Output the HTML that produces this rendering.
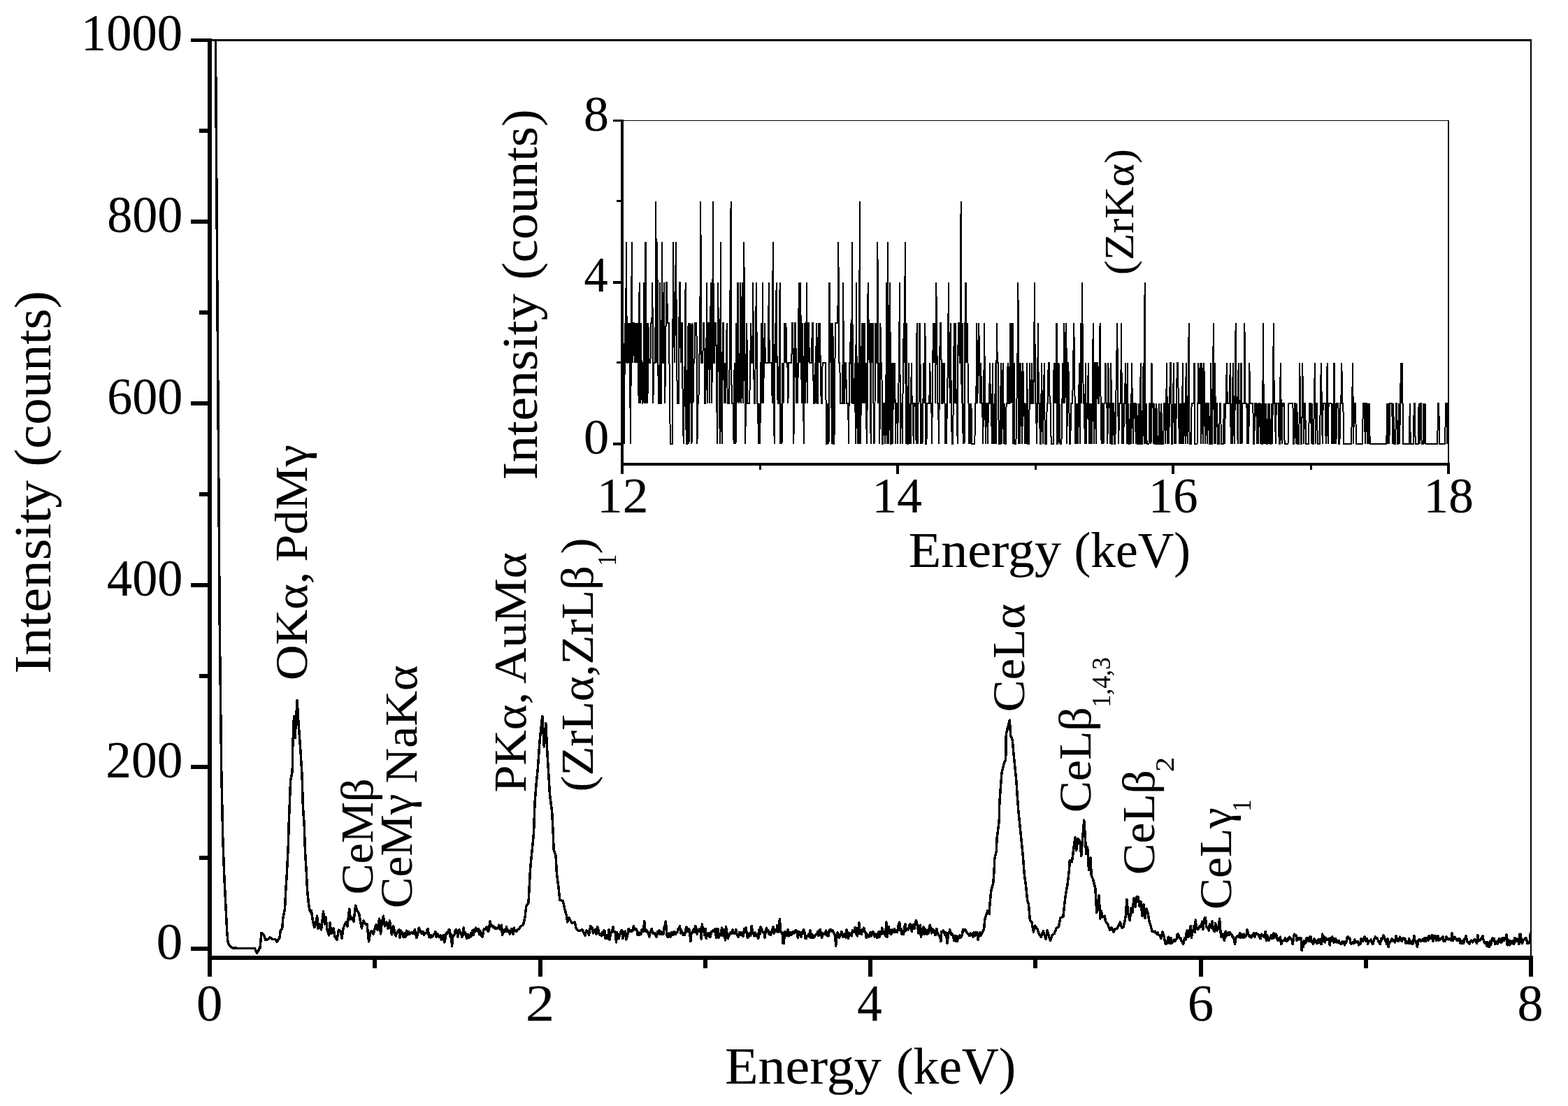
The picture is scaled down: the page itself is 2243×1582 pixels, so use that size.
<!DOCTYPE html>
<html lang="en">
<head>
<meta charset="utf-8">
<title>EDS spectrum</title>
<style>
html,body{margin:0;padding:0;background:#fff;}
body{width:2243px;height:1582px;overflow:hidden;font-family:"Liberation Serif", "DejaVu Serif", serif;}
svg{display:block;}
</style>
</head>
<body>
<svg width="2243" height="1582" viewBox="0 0 2243 1582">
<rect x="0" y="0" width="2243" height="1582" fill="#fff"/>
<g fill="#000" shape-rendering="crispEdges">
<rect x="297" y="55" width="6" height="1342"/>
<rect x="297" y="1367" width="1896" height="6"/>
<rect x="297" y="56" width="1894" height="3"/>
<rect x="2189" y="56" width="2" height="1317"/>
<rect x="273" y="1354" width="27" height="6"/>
<rect x="285" y="1224" width="15" height="6"/>
<rect x="273" y="1094" width="27" height="6"/>
<rect x="285" y="964" width="15" height="6"/>
<rect x="273" y="834" width="27" height="6"/>
<rect x="285" y="704" width="15" height="6"/>
<rect x="273" y="574" width="27" height="6"/>
<rect x="285" y="444" width="15" height="6"/>
<rect x="273" y="314" width="27" height="6"/>
<rect x="285" y="184" width="15" height="6"/>
<rect x="273" y="55" width="27" height="5"/>
<rect x="297" y="1370" width="6" height="27"/>
<rect x="533.25" y="1370" width="6" height="15"/>
<rect x="769.5" y="1370" width="6" height="27"/>
<rect x="1005.75" y="1370" width="6" height="15"/>
<rect x="1242" y="1370" width="6" height="27"/>
<rect x="1478.25" y="1370" width="6" height="15"/>
<rect x="1714.5" y="1370" width="6" height="27"/>
<rect x="1950.75" y="1370" width="6" height="15"/>
<rect x="2187" y="1370" width="6" height="27"/>
<rect x="888" y="171" width="4" height="507"/>
<rect x="888" y="662" width="1186" height="4"/>
<rect x="888" y="172" width="1185" height="1"/>
<rect x="2071" y="172" width="2" height="494"/>
<rect x="877" y="633" width="13" height="4"/>
<rect x="882" y="517" width="8" height="3"/>
<rect x="877" y="402" width="13" height="4"/>
<rect x="882" y="286" width="8" height="3"/>
<rect x="877" y="171" width="13" height="3"/>
<rect x="888" y="664" width="4" height="14"/>
<rect x="1085.5" y="664" width="3" height="8"/>
<rect x="1282" y="664" width="4" height="14"/>
<rect x="1479.5" y="664" width="3" height="8"/>
<rect x="1676" y="664" width="4" height="14"/>
<rect x="1873.5" y="664" width="3" height="8"/>
<rect x="2070" y="664" width="4" height="14"/>
</g>
<g fill="none" stroke="#000" stroke-linejoin="round" stroke-linecap="butt">
<polyline stroke-width="3.5" stroke-linejoin="round" shape-rendering="crispEdges" points="308.4,57.0 311.3,480.0 314.3,900.0 316.7,1100.0 318.8,1200.0 320.9,1256.0 322.8,1294.0 324.7,1332.0 325.9,1347.0 328.0,1352.0 330.3,1354.5 332.9,1356.0 340.0,1356.3 350.0,1356.3 360.0,1356.3 364.5,1356.4 367.6,1363.3 370.0,1359.0 372.0,1355.7 374.0,1334.2 377.7,1338.0 379.6,1344.3 383.4,1343.7 386.0,1340.6 389.8,1343.7 393.6,1343.7 396.1,1346.9 399.9,1341.8 401.1,1331.7 403.7,1327.9 404.9,1312.7 407.5,1300.1 408.7,1274.8 410.0,1255.9 411.3,1230.6 412.5,1205.3 413.1,1180.0 414.4,1148.0 415.6,1116.5 418.2,1103.8 418.8,1066.0 420.5,1024.8 422.0,1055.8 425.1,1002.0 427.0,1034.3 428.9,1059.6 430.2,1078.5 432.1,1110.1 433.4,1154.4 435.2,1179.7 436.5,1217.9 438.4,1249.5 439.7,1274.8 441.6,1293.8 443.5,1303.9 445.4,1302.6 447.3,1316.5 449.8,1326.6 451.5,1322.0 453.6,1310.0 455.0,1328.0 457.0,1322.0 459.5,1330.0 462.5,1303.9 464.5,1322.0 466.0,1312.0 468.0,1330.0 470.7,1338.0 472.0,1320.0 474.0,1335.0 477.0,1328.0 479.0,1340.0 482.0,1344.3 484.5,1330.0 487.0,1331.7 489.0,1342.0 491.0,1328.0 494.7,1319.0 497.0,1325.0 499.7,1300.0 501.5,1315.0 503.5,1312.7 506.0,1318.0 508.6,1295.0 511.0,1303.0 513.6,1306.4 515.5,1318.0 517.4,1327.9 520.0,1316.5 522.5,1322.0 525.0,1321.6 527.6,1346.9 529.5,1335.0 531.4,1331.7 534.0,1336.0 537.7,1322.9 540.0,1330.0 542.7,1314.0 544.5,1336.0 546.5,1318.0 548.4,1310.2 550.5,1325.0 552.8,1319.0 555.0,1328.0 557.5,1317.0 560.4,1336.8 562.7,1324.5 563.9,1329.7 565.1,1336.2 566.2,1338.8 567.4,1334.9 568.6,1332.3 569.8,1333.6 571.0,1329.7 572.1,1341.4 573.3,1331.0 574.5,1336.2 575.7,1333.6 576.9,1340.1 578.1,1340.1 579.2,1334.9 580.4,1340.1 581.6,1331.0 582.8,1337.5 584.0,1332.3 585.1,1333.6 586.3,1336.2 587.5,1334.9 588.7,1333.6 589.9,1334.9 591.0,1333.6 592.2,1334.9 593.4,1329.7 594.6,1334.9 595.8,1341.4 597.0,1337.5 598.1,1333.6 599.3,1327.1 600.5,1329.7 601.7,1332.3 602.9,1334.9 604.0,1332.3 605.2,1332.3 606.4,1337.5 607.6,1334.9 608.8,1334.9 609.9,1334.9 611.1,1329.7 612.3,1328.4 613.5,1340.1 614.7,1337.5 615.9,1341.4 617.0,1337.5 618.2,1340.1 619.4,1338.8 620.6,1336.2 621.8,1336.2 622.9,1332.3 624.1,1340.1 625.3,1336.2 626.5,1336.2 627.7,1340.1 628.8,1338.8 630.0,1337.5 631.2,1344.0 632.4,1338.8 633.6,1344.0 634.8,1337.5 635.9,1347.9 637.1,1342.7 638.3,1334.9 639.5,1333.6 640.7,1334.9 641.8,1329.7 643.0,1329.7 644.2,1340.1 645.4,1336.2 646.6,1353.1 647.7,1341.4 648.9,1337.5 650.1,1337.5 651.3,1331.0 652.5,1329.7 653.7,1332.3 654.8,1340.1 656.0,1334.9 657.2,1329.7 658.4,1334.9 659.6,1334.9 660.7,1340.1 661.9,1338.8 663.1,1327.1 664.3,1336.2 665.5,1333.6 666.6,1337.5 667.8,1342.7 669.0,1336.2 670.2,1341.4 671.4,1337.5 672.6,1340.1 673.7,1334.9 674.9,1338.8 676.1,1331.0 677.3,1337.5 678.5,1329.7 679.6,1332.3 680.8,1327.1 682.0,1331.0 683.2,1329.7 684.4,1328.4 685.5,1336.2 686.7,1331.0 687.9,1337.5 689.1,1338.8 690.3,1340.1 691.5,1331.0 692.6,1328.4 693.8,1328.4 695.0,1329.7 696.2,1325.8 697.4,1331.0 698.5,1332.3 699.7,1328.4 700.9,1318.0 702.1,1324.5 703.3,1323.2 704.4,1325.8 705.6,1324.5 706.8,1327.1 708.0,1328.4 709.2,1327.1 710.4,1328.4 711.5,1327.1 712.7,1327.1 713.9,1323.2 715.1,1329.7 716.3,1325.8 717.4,1323.2 718.6,1337.5 719.8,1331.0 721.0,1333.6 722.2,1329.7 723.3,1332.3 724.5,1325.8 725.7,1332.3 726.9,1332.3 728.1,1331.0 729.3,1336.2 730.4,1333.6 731.6,1328.4 732.8,1332.3 734.0,1336.2 735.2,1327.1 736.3,1331.0 737.5,1331.0 738.7,1332.3 739.9,1329.7 742.0,1329.0 745.0,1325.0 748.4,1322.9 750.9,1312.7 752.8,1296.3 756.0,1291.3 757.2,1268.5 758.5,1243.2 761.0,1218.0 762.9,1199.0 763.7,1187.0 765.0,1149.0 766.9,1123.8 769.4,1098.5 772.0,1060.6 775.8,1024.5 778.3,1068.0 780.8,1034.7 782.7,1073.2 784.6,1104.8 786.5,1136.5 789.7,1161.8 791.6,1199.7 792.0,1215.4 795.1,1224.2 796.4,1249.5 798.9,1268.5 800.8,1287.5 805.3,1288.7 807.8,1300.1 810.9,1311.5 811.6,1319.0 814.1,1312.7 817.9,1320.3 822.3,1319.0 824.2,1327.9 828.0,1331.7 833.0,1329.8 836.9,1338.0 839.0,1331.0 840.2,1333.6 841.4,1332.3 842.5,1337.5 843.7,1329.7 844.9,1324.5 846.1,1327.1 847.3,1327.1 848.4,1334.9 849.6,1333.6 850.8,1329.7 852.0,1333.6 853.2,1336.2 854.4,1325.8 855.5,1328.4 856.7,1333.6 857.9,1337.5 859.1,1336.2 860.3,1338.8 861.4,1333.6 862.6,1337.5 863.8,1331.0 865.0,1332.3 866.2,1342.7 867.3,1342.7 868.5,1337.5 869.7,1342.7 870.9,1329.7 872.1,1344.0 873.3,1336.2 874.4,1333.6 875.6,1333.6 876.8,1325.8 878.0,1332.3 879.2,1332.3 880.3,1334.9 881.5,1347.9 882.7,1333.6 883.9,1342.7 885.1,1342.7 886.2,1337.5 887.4,1334.9 888.6,1331.0 889.8,1331.0 891.0,1342.7 892.2,1332.3 893.3,1334.9 894.5,1332.3 895.7,1344.0 896.9,1340.1 898.1,1334.9 899.2,1328.4 900.4,1331.0 901.6,1332.3 902.8,1331.0 904.0,1332.3 905.1,1331.0 906.3,1324.5 907.5,1328.4 908.7,1329.7 909.9,1328.4 911.1,1331.0 912.2,1337.5 913.4,1333.6 914.6,1337.5 915.8,1334.9 917.0,1336.2 918.1,1329.7 919.3,1329.7 920.5,1332.3 921.7,1317.8 922.9,1331.0 924.0,1329.7 925.2,1333.6 926.4,1332.3 927.6,1334.9 928.8,1340.1 930.0,1333.6 931.1,1332.3 932.3,1328.4 933.5,1334.9 934.7,1334.9 935.9,1334.9 937.0,1334.9 938.2,1338.8 939.4,1340.1 940.6,1332.3 941.8,1333.6 942.9,1331.0 944.1,1336.2 945.3,1332.3 946.5,1336.2 947.7,1333.6 948.9,1336.2 950.0,1327.1 951.2,1323.2 952.4,1318.0 953.6,1336.2 954.8,1340.1 955.9,1340.1 957.1,1334.9 958.3,1336.2 959.5,1340.1 960.7,1333.6 961.8,1333.6 963.0,1337.5 964.2,1332.3 965.4,1334.9 966.6,1336.2 967.8,1333.6 968.9,1333.6 970.1,1328.4 971.3,1329.7 972.5,1324.5 973.7,1334.9 974.8,1331.0 976.0,1333.6 977.2,1337.5 978.4,1334.9 979.6,1337.5 980.7,1329.7 981.9,1325.8 983.1,1332.3 984.3,1332.3 985.5,1328.4 986.7,1332.3 987.8,1346.6 989.0,1334.9 990.2,1333.6 991.4,1331.0 992.6,1328.4 993.7,1333.6 994.9,1324.5 996.1,1328.4 997.3,1336.2 998.5,1331.0 999.6,1331.0 1000.8,1328.4 1002.0,1331.0 1003.2,1343.0 1004.4,1321.9 1005.6,1332.3 1006.7,1328.4 1007.9,1337.5 1009.1,1328.4 1010.3,1342.7 1011.5,1336.2 1012.6,1334.9 1013.8,1334.9 1015.0,1340.1 1016.2,1340.1 1017.4,1332.3 1018.5,1332.3 1019.7,1331.0 1020.9,1332.3 1022.1,1332.3 1023.3,1328.4 1024.5,1341.4 1025.6,1334.9 1026.8,1328.4 1028.0,1341.4 1029.2,1338.8 1030.4,1337.5 1031.5,1333.6 1032.7,1327.1 1033.9,1338.8 1035.1,1329.7 1036.3,1329.7 1037.4,1345.0 1038.6,1325.8 1039.8,1333.6 1041.0,1342.7 1042.2,1340.1 1043.4,1337.5 1044.5,1334.9 1045.7,1333.6 1046.9,1334.9 1048.1,1329.7 1049.3,1334.9 1050.4,1334.9 1051.6,1334.9 1052.8,1329.7 1054.0,1336.2 1055.2,1338.8 1056.3,1340.1 1057.5,1333.6 1058.7,1337.5 1059.9,1333.6 1061.1,1337.5 1062.3,1338.8 1063.4,1338.8 1064.6,1328.4 1065.8,1332.3 1067.0,1327.1 1068.2,1334.9 1069.3,1341.4 1070.5,1338.8 1071.7,1334.9 1072.9,1338.8 1074.1,1337.5 1075.2,1324.5 1076.4,1332.3 1077.6,1334.9 1078.8,1338.8 1080.0,1333.6 1081.2,1338.8 1082.3,1338.8 1083.5,1336.2 1084.7,1342.7 1085.9,1329.7 1087.1,1336.2 1088.2,1325.8 1089.4,1328.4 1090.6,1332.3 1091.8,1333.6 1093.0,1333.6 1094.1,1341.4 1095.3,1331.0 1096.5,1327.1 1097.7,1332.3 1098.9,1331.0 1100.1,1336.2 1101.2,1333.6 1102.4,1337.5 1103.6,1333.6 1104.8,1329.7 1106.0,1325.8 1107.1,1334.9 1108.3,1332.3 1109.5,1329.7 1110.7,1332.3 1111.9,1323.2 1113.0,1333.6 1114.2,1324.5 1115.4,1314.6 1116.6,1332.3 1117.8,1333.6 1119.0,1333.6 1120.1,1349.2 1121.3,1349.2 1122.5,1332.3 1123.7,1333.6 1124.9,1333.6 1126.0,1338.8 1127.2,1329.7 1128.4,1338.8 1129.6,1333.6 1130.8,1333.6 1131.9,1337.5 1133.1,1336.2 1134.3,1332.3 1135.5,1332.3 1136.7,1334.9 1137.9,1331.0 1139.0,1331.0 1140.2,1333.6 1141.4,1341.4 1142.6,1332.3 1143.8,1337.5 1144.9,1333.6 1146.1,1340.1 1147.3,1334.9 1148.5,1332.3 1149.7,1329.7 1150.8,1333.6 1152.0,1342.7 1153.2,1342.7 1154.4,1338.8 1155.6,1338.8 1156.8,1336.2 1157.9,1340.1 1159.1,1331.0 1160.3,1341.4 1161.5,1336.2 1162.7,1337.5 1163.8,1341.4 1165.0,1340.1 1166.2,1337.5 1167.4,1336.2 1168.6,1336.2 1169.7,1332.3 1170.9,1338.8 1172.1,1331.0 1173.3,1329.7 1174.5,1336.2 1175.7,1341.4 1176.8,1334.9 1178.0,1336.2 1179.2,1336.2 1180.4,1336.2 1181.6,1331.0 1182.7,1337.5 1183.9,1338.8 1185.1,1338.8 1186.3,1331.0 1187.5,1329.7 1188.6,1329.7 1189.8,1332.3 1191.0,1331.0 1192.2,1333.6 1193.4,1336.2 1194.6,1337.5 1195.7,1353.1 1196.9,1340.1 1198.1,1333.6 1199.3,1337.5 1200.5,1341.4 1201.6,1338.8 1202.8,1337.5 1204.0,1332.3 1205.2,1338.8 1206.4,1340.1 1207.5,1336.2 1208.7,1336.2 1209.9,1341.4 1211.1,1329.7 1212.3,1334.9 1213.5,1342.7 1214.6,1334.9 1215.8,1336.2 1217.0,1336.2 1218.2,1338.8 1219.4,1331.0 1220.5,1332.3 1221.7,1333.6 1222.9,1327.1 1224.1,1327.1 1225.3,1337.5 1226.4,1338.8 1227.6,1333.6 1228.8,1320.0 1230.0,1334.9 1231.2,1331.0 1232.4,1336.2 1233.5,1329.7 1234.7,1332.3 1235.9,1327.1 1237.1,1332.3 1238.3,1334.9 1239.4,1341.4 1240.6,1336.2 1241.8,1338.8 1243.0,1340.1 1244.2,1336.2 1245.3,1333.6 1246.5,1338.8 1247.7,1334.9 1248.9,1332.3 1250.1,1334.9 1251.3,1340.1 1252.4,1336.2 1253.6,1340.1 1254.8,1341.4 1256.0,1334.9 1257.2,1332.3 1258.3,1340.1 1259.5,1332.3 1260.7,1336.2 1261.9,1327.1 1263.1,1334.9 1264.2,1332.3 1265.4,1334.9 1266.6,1338.8 1267.8,1319.0 1269.0,1340.1 1270.2,1333.6 1271.3,1325.8 1272.5,1332.3 1273.7,1336.2 1274.9,1336.2 1276.1,1329.7 1277.2,1333.6 1278.4,1333.6 1279.6,1328.4 1280.8,1333.6 1282.0,1331.0 1283.1,1333.6 1284.3,1329.7 1285.5,1321.9 1286.7,1319.3 1287.9,1331.0 1289.1,1328.4 1290.2,1336.2 1291.4,1332.3 1292.6,1336.2 1293.8,1325.8 1295.0,1321.9 1296.1,1331.0 1297.3,1329.7 1298.5,1328.4 1299.7,1329.7 1300.9,1323.2 1302.0,1321.9 1303.2,1325.8 1304.4,1332.3 1305.6,1323.2 1306.8,1323.2 1308.0,1328.4 1309.1,1320.6 1310.3,1316.7 1311.5,1319.3 1312.7,1325.8 1313.9,1334.9 1315.0,1329.7 1316.2,1323.2 1317.4,1340.1 1318.6,1334.9 1319.8,1328.4 1320.9,1325.8 1322.1,1336.2 1323.3,1328.4 1324.5,1331.0 1325.7,1336.2 1326.9,1331.0 1328.0,1334.9 1329.2,1327.1 1330.4,1323.2 1331.6,1329.7 1332.8,1334.9 1333.9,1328.4 1335.1,1333.6 1336.3,1331.0 1337.5,1337.5 1338.7,1337.5 1339.8,1328.4 1341.0,1334.9 1342.2,1336.2 1343.4,1338.8 1344.6,1338.8 1345.8,1346.6 1346.9,1332.3 1348.1,1333.6 1349.3,1331.0 1350.5,1332.3 1351.7,1337.5 1352.8,1333.6 1354.0,1340.1 1355.2,1349.2 1356.4,1334.9 1357.6,1334.9 1358.7,1329.7 1359.9,1333.6 1361.1,1337.5 1362.3,1336.2 1363.5,1338.8 1364.7,1345.3 1365.8,1338.8 1367.0,1346.6 1368.2,1338.8 1369.4,1346.6 1370.6,1340.1 1371.7,1341.4 1372.9,1337.5 1374.1,1341.4 1375.3,1340.1 1376.5,1336.2 1377.6,1329.7 1378.8,1329.7 1380.0,1331.0 1381.2,1329.7 1382.4,1333.6 1383.6,1334.9 1384.7,1336.2 1385.9,1336.2 1387.1,1338.8 1388.3,1334.9 1389.5,1337.5 1390.6,1336.2 1391.8,1340.1 1393.0,1333.6 1394.2,1338.8 1395.4,1333.6 1396.5,1333.6 1397.7,1333.6 1398.9,1344.0 1400.1,1340.1 1401.3,1333.6 1403.2,1338.0 1407.6,1329.2 1408.9,1314.0 1412.7,1302.6 1415.2,1307.7 1415.9,1293.8 1417.7,1274.8 1420.9,1262.2 1422.2,1243.2 1422.8,1228.0 1425.3,1217.9 1426.0,1199.7 1429.2,1174.4 1429.8,1149.1 1431.1,1130.1 1433.0,1104.9 1436.2,1092.2 1438.7,1085.9 1439.3,1050.5 1441.2,1041.6 1444.4,1030.2 1445.6,1051.7 1448.2,1058.1 1450.1,1079.6 1452.0,1098.5 1453.9,1117.5 1455.1,1136.5 1457.0,1161.8 1459.6,1187.1 1461.4,1205.3 1463.3,1224.2 1465.2,1249.5 1467.7,1268.5 1469.6,1287.5 1471.5,1293.8 1473.4,1316.5 1475.9,1319.0 1478.4,1333.0 1480.3,1324.1 1484.1,1329.2 1486.5,1336.0 1489.2,1340.6 1492.3,1331.7 1496.1,1343.1 1498.0,1331.0 1502.5,1345.6 1505.0,1338.0 1508.1,1335.5 1511.0,1328.0 1514.5,1325.4 1517.0,1312.7 1520.8,1311.5 1522.7,1293.8 1524.6,1278.6 1527.1,1264.7 1529.6,1243.2 1530.3,1230.6 1533.4,1233.0 1534.7,1223.0 1537.9,1197.7 1539.7,1216.7 1542.0,1200.0 1544.8,1202.8 1546.7,1224.2 1549.0,1195.0 1550.7,1173.0 1552.4,1196.4 1553.7,1221.7 1555.6,1211.6 1557.5,1244.5 1560.0,1226.8 1561.2,1252.0 1563.8,1258.4 1566.9,1271.0 1568.8,1305.2 1572.0,1281.1 1573.9,1314.0 1575.1,1302.6 1577.5,1312.0 1580.2,1310.2 1581.5,1317.8 1584.5,1322.0 1587.8,1330.4 1590.0,1327.0 1592.8,1333.0 1595.0,1329.0 1597.9,1327.9 1600.0,1324.0 1602.3,1319.0 1604.5,1327.0 1606.7,1326.6 1609.0,1318.0 1610.5,1308.9 1611.8,1286.2 1613.7,1306.4 1616.2,1316.5 1618.1,1298.8 1620.0,1305.0 1622.0,1285.0 1624.0,1297.0 1626.0,1283.0 1628.0,1282.4 1630.0,1296.0 1632.0,1290.0 1634.0,1310.0 1636.0,1294.0 1638.0,1313.0 1640.0,1300.0 1642.0,1306.0 1644.0,1318.0 1646.0,1324.0 1648.0,1332.0 1650.0,1332.3 1651.2,1333.6 1652.4,1332.3 1653.5,1334.9 1654.7,1336.2 1655.9,1333.6 1657.1,1337.5 1658.3,1337.5 1659.5,1337.5 1660.6,1342.7 1661.8,1340.1 1663.0,1332.3 1664.2,1337.5 1665.4,1340.1 1666.5,1347.9 1667.7,1350.5 1668.9,1346.6 1670.1,1349.2 1671.3,1340.1 1672.4,1345.3 1673.6,1349.2 1674.8,1341.4 1676.0,1349.2 1677.2,1347.9 1678.4,1345.3 1679.5,1344.0 1680.7,1346.6 1681.9,1344.0 1683.1,1342.7 1684.3,1336.2 1685.4,1336.2 1686.6,1340.1 1687.8,1342.7 1689.0,1341.4 1690.2,1346.6 1691.3,1347.9 1692.5,1350.5 1693.7,1345.3 1694.9,1341.4 1696.1,1344.0 1697.3,1333.6 1698.4,1331.0 1699.6,1340.1 1700.8,1338.8 1702.0,1331.0 1703.2,1324.5 1704.4,1341.4 1705.6,1332.3 1706.7,1332.3 1707.9,1324.5 1709.1,1333.6 1710.3,1316.0 1711.5,1328.4 1712.7,1327.1 1713.8,1329.7 1715.0,1327.1 1716.2,1324.5 1717.4,1325.8 1718.6,1323.2 1719.7,1318.0 1720.9,1329.7 1722.1,1319.3 1723.3,1313.0 1724.5,1312.8 1725.6,1325.8 1726.8,1327.1 1728.0,1328.4 1729.2,1331.0 1730.4,1321.9 1731.6,1323.2 1732.7,1327.1 1733.9,1318.0 1735.1,1328.4 1736.3,1331.0 1737.5,1332.3 1738.6,1320.6 1739.8,1324.5 1741.0,1331.0 1742.2,1328.4 1743.4,1328.4 1744.5,1314.0 1745.7,1329.7 1746.9,1340.1 1748.1,1336.2 1749.3,1337.5 1750.5,1342.7 1751.6,1345.3 1752.3,1333.6 1753.5,1332.3 1754.7,1338.8 1755.8,1334.9 1757.0,1333.6 1758.2,1337.5 1759.4,1333.6 1760.6,1336.2 1761.8,1336.2 1762.9,1340.1 1764.1,1340.1 1765.3,1344.0 1766.5,1350.5 1767.7,1342.7 1768.8,1340.1 1770.0,1338.8 1771.2,1338.8 1772.4,1340.1 1773.6,1334.9 1774.7,1341.4 1775.9,1336.2 1777.1,1337.5 1778.3,1341.4 1779.5,1336.2 1780.7,1340.1 1781.8,1338.8 1783.0,1337.5 1784.2,1329.7 1785.4,1334.9 1786.6,1338.8 1787.7,1340.1 1788.9,1338.8 1790.1,1341.4 1791.3,1337.5 1792.5,1337.5 1793.6,1334.9 1794.8,1340.1 1796.0,1337.5 1797.2,1334.9 1798.4,1336.2 1799.6,1336.2 1800.7,1338.8 1801.9,1341.4 1803.1,1342.7 1804.3,1336.2 1805.5,1337.5 1806.6,1338.8 1807.8,1340.1 1809.0,1337.5 1810.2,1332.3 1811.4,1345.3 1812.5,1337.5 1813.7,1340.1 1814.9,1345.3 1816.1,1342.7 1817.3,1342.7 1818.5,1337.5 1819.6,1341.4 1820.8,1342.7 1822.0,1334.9 1823.2,1341.4 1824.4,1338.8 1825.5,1336.2 1826.7,1342.7 1827.9,1345.3 1829.1,1342.7 1830.3,1341.4 1831.4,1340.1 1832.6,1350.5 1833.8,1347.9 1835.0,1345.3 1836.2,1345.3 1837.4,1345.3 1838.5,1341.4 1839.7,1345.3 1840.9,1346.6 1842.1,1342.7 1843.3,1344.0 1844.4,1340.1 1845.6,1342.7 1846.8,1342.7 1848.0,1344.0 1849.2,1350.5 1850.3,1342.7 1851.5,1336.2 1852.7,1337.5 1853.9,1337.5 1855.1,1345.3 1856.3,1341.4 1857.4,1341.4 1858.6,1344.0 1859.8,1342.7 1861.0,1341.4 1862.2,1359.6 1863.3,1347.9 1864.5,1354.4 1865.7,1345.3 1866.9,1349.2 1868.1,1347.9 1869.2,1341.4 1870.4,1345.3 1871.6,1341.4 1872.8,1346.6 1874.0,1340.1 1875.2,1340.1 1876.3,1347.9 1877.5,1346.6 1878.7,1350.5 1879.9,1342.7 1881.1,1346.6 1882.2,1345.3 1883.4,1349.2 1884.6,1349.2 1885.8,1344.0 1887.0,1347.9 1888.1,1344.0 1889.3,1350.5 1890.5,1350.5 1891.7,1336.2 1892.9,1346.6 1894.1,1340.1 1895.2,1347.9 1896.4,1341.4 1897.6,1344.0 1898.8,1344.0 1900.0,1342.7 1901.1,1342.7 1902.3,1351.8 1903.5,1341.4 1904.7,1344.0 1905.9,1340.1 1907.0,1346.6 1908.2,1347.9 1909.4,1342.7 1910.6,1342.7 1911.8,1347.9 1913.0,1345.3 1914.1,1347.9 1915.3,1345.3 1916.5,1349.2 1917.7,1349.2 1918.9,1350.5 1920.0,1346.6 1921.2,1346.6 1922.4,1349.2 1923.6,1351.8 1924.8,1346.6 1925.9,1347.9 1927.1,1340.1 1928.3,1340.1 1929.5,1342.7 1930.7,1341.4 1931.9,1349.2 1933.0,1350.5 1934.2,1349.2 1935.4,1347.9 1936.6,1349.2 1937.8,1344.0 1938.9,1347.9 1940.1,1346.6 1941.3,1346.6 1942.5,1346.6 1943.7,1351.8 1944.8,1349.2 1946.0,1350.5 1947.2,1342.7 1948.4,1344.0 1949.6,1346.6 1950.8,1342.7 1951.9,1340.1 1953.1,1344.0 1954.3,1346.6 1955.5,1342.7 1956.7,1350.5 1957.8,1345.3 1959.0,1345.3 1960.2,1346.6 1961.4,1344.0 1962.6,1347.9 1963.7,1350.5 1964.9,1346.6 1966.1,1342.7 1967.3,1340.1 1968.5,1342.7 1969.7,1341.4 1970.8,1344.0 1972.0,1346.6 1973.2,1347.9 1974.4,1350.5 1975.6,1342.7 1976.7,1344.0 1977.9,1341.4 1979.1,1337.5 1980.3,1340.1 1981.5,1345.3 1982.6,1346.6 1983.8,1350.5 1985.0,1342.7 1986.2,1354.4 1987.4,1347.9 1988.6,1347.9 1989.7,1345.3 1990.9,1342.7 1992.1,1344.0 1993.3,1346.6 1994.5,1345.3 1995.6,1347.9 1996.8,1338.8 1998.0,1341.4 1999.2,1345.3 2000.4,1346.6 2001.5,1342.7 2002.7,1340.1 2003.9,1342.7 2005.1,1346.6 2006.3,1342.7 2007.5,1341.4 2008.6,1344.0 2009.8,1342.7 2011.0,1349.2 2012.2,1346.6 2013.4,1347.9 2014.5,1349.2 2015.7,1342.7 2016.9,1349.2 2018.1,1349.2 2019.3,1346.6 2020.4,1350.5 2021.6,1349.2 2022.8,1338.8 2024.0,1345.3 2025.2,1346.6 2026.4,1350.5 2027.5,1354.4 2028.7,1345.3 2029.9,1344.0 2031.1,1344.0 2032.3,1346.6 2033.4,1345.3 2034.6,1344.0 2035.8,1342.7 2037.0,1346.6 2038.2,1341.4 2039.3,1346.6 2040.5,1342.7 2041.7,1341.4 2042.9,1345.3 2044.1,1338.8 2045.3,1338.8 2046.4,1342.7 2047.6,1341.4 2048.8,1337.5 2050.0,1346.6 2051.2,1338.8 2052.3,1342.7 2053.5,1338.8 2054.7,1345.3 2055.9,1341.4 2057.1,1338.8 2058.2,1345.3 2059.4,1342.7 2060.6,1344.0 2061.8,1342.7 2063.0,1341.4 2064.2,1340.1 2065.3,1346.6 2066.5,1346.6 2067.7,1345.3 2068.9,1340.1 2070.1,1342.7 2071.2,1342.7 2072.4,1344.0 2073.6,1342.7 2074.8,1342.7 2076.0,1345.3 2077.1,1334.9 2078.3,1345.3 2079.5,1344.0 2080.7,1340.1 2081.9,1341.4 2083.1,1342.7 2084.2,1345.3 2085.4,1345.3 2086.6,1342.7 2087.8,1342.7 2089.0,1349.2 2090.1,1345.3 2091.3,1349.2 2092.5,1345.3 2093.7,1349.2 2094.9,1342.7 2096.0,1342.7 2097.2,1338.8 2098.4,1345.3 2099.6,1347.9 2100.8,1349.2 2102.0,1350.5 2103.1,1346.6 2104.3,1345.3 2105.5,1346.6 2106.7,1347.9 2107.9,1345.3 2109.0,1344.0 2110.2,1344.0 2111.4,1346.6 2112.6,1349.2 2113.8,1337.5 2114.9,1346.6 2116.1,1345.3 2117.3,1345.3 2118.5,1342.7 2119.7,1341.4 2120.9,1338.8 2122.0,1344.0 2123.2,1347.9 2124.4,1349.2 2125.6,1347.9 2126.8,1353.1 2127.9,1347.9 2129.1,1354.4 2130.3,1354.4 2131.5,1346.6 2132.7,1351.8 2133.8,1344.0 2135.0,1341.4 2136.2,1345.3 2137.4,1342.7 2138.6,1350.5 2139.8,1349.2 2140.9,1346.6 2142.1,1350.5 2143.3,1346.6 2144.5,1342.7 2145.7,1344.0 2146.8,1347.9 2148.0,1347.9 2149.2,1341.4 2150.4,1341.4 2151.6,1345.3 2152.7,1341.4 2153.9,1341.4 2155.1,1337.0 2156.3,1351.8 2157.5,1344.0 2158.7,1345.3 2159.8,1351.8 2161.0,1345.3 2162.2,1349.2 2163.4,1349.2 2164.6,1345.3 2165.7,1350.5 2166.9,1341.4 2168.1,1346.6 2169.3,1342.7 2170.5,1345.3 2171.6,1344.0 2172.8,1350.5 2174.0,1336.2 2175.2,1336.2 2176.4,1346.6 2177.6,1349.2 2178.7,1345.3 2179.9,1344.0 2181.1,1342.7 2182.3,1341.4 2183.5,1342.7 2184.6,1349.2 2185.8,1347.9 2187.0,1349.2 2188.2,1346.6 2189.4,1334.9 2189.5,1337.0"/>
<polyline stroke-width="2.0" stroke-linejoin="miter" shape-rendering="crispEdges" points="890.0,519.4 891.0,461.6 892.0,519.4 893.0,635.0 893.9,461.6 894.9,519.4 895.9,345.9 896.9,519.4 897.9,519.4 898.9,461.6 899.9,519.4 900.8,461.6 901.8,635.0 902.8,519.4 903.8,345.9 904.8,519.4 905.8,461.6 906.7,461.6 907.7,519.4 908.7,461.6 909.7,519.4 910.7,461.6 911.7,519.4 912.7,461.6 913.6,577.2 914.6,403.8 915.6,577.2 916.6,461.6 917.6,519.4 918.6,577.2 919.5,577.2 920.5,519.4 921.5,403.8 922.5,577.2 923.5,345.9 924.5,577.2 925.5,461.6 926.4,577.2 927.4,461.6 928.4,519.4 929.4,519.4 930.4,519.4 931.4,461.6 932.4,461.6 933.3,403.8 934.3,577.2 935.3,519.4 936.3,519.4 937.3,519.4 938.3,288.1 939.2,519.4 940.2,345.9 941.2,519.4 942.2,577.2 943.2,577.2 944.2,403.8 945.2,577.2 946.1,577.2 947.1,345.9 948.1,519.4 949.1,519.4 950.1,403.8 951.1,577.2 952.1,519.4 953.0,403.8 954.0,403.8 955.0,461.6 956.0,461.6 957.0,461.6 958.0,577.2 959.0,635.0 959.9,635.0 960.9,635.0 961.9,635.0 962.9,345.9 963.9,461.6 964.9,519.4 965.8,461.6 966.8,345.9 967.8,461.6 968.8,577.2 969.8,577.2 970.8,577.2 971.8,403.8 972.7,403.8 973.7,519.4 974.7,461.6 975.7,461.6 976.7,577.2 977.7,635.0 978.6,577.2 979.6,519.4 980.6,403.8 981.6,635.0 982.6,635.0 983.6,519.4 984.6,461.6 985.5,635.0 986.5,519.4 987.5,461.6 988.5,577.2 989.5,635.0 990.5,461.6 991.5,577.2 992.4,519.4 993.4,519.4 994.4,461.6 995.4,461.6 996.4,461.6 997.4,635.0 998.4,577.2 999.3,577.2 1000.3,519.4 1001.3,461.6 1002.3,288.1 1003.3,519.4 1004.3,519.4 1005.2,519.4 1006.2,461.6 1007.2,461.6 1008.2,577.2 1009.2,577.2 1010.2,519.4 1011.2,403.8 1012.1,577.2 1013.1,461.6 1014.1,461.6 1015.1,577.2 1016.1,461.6 1017.1,403.8 1018.0,577.2 1019.0,519.4 1020.0,288.1 1021.0,519.4 1022.0,519.4 1023.0,461.6 1024.0,461.6 1024.9,519.4 1025.9,635.0 1026.9,403.8 1027.9,461.6 1028.9,577.2 1029.9,635.0 1030.9,345.9 1031.8,577.2 1032.8,635.0 1033.8,461.6 1034.8,461.6 1035.8,577.2 1036.8,519.4 1037.8,577.2 1038.7,519.4 1039.7,461.6 1040.7,577.2 1041.7,577.2 1042.7,577.2 1043.7,519.4 1044.6,403.8 1045.6,288.1 1046.6,577.2 1047.6,577.2 1048.6,577.2 1049.6,635.0 1050.6,519.4 1051.5,577.2 1052.5,635.0 1053.5,461.6 1054.5,577.2 1055.5,403.8 1056.5,519.4 1057.5,577.2 1058.4,519.4 1059.4,403.8 1060.4,577.2 1061.4,519.4 1062.4,403.8 1063.4,577.2 1064.3,345.9 1065.3,519.4 1066.3,635.0 1067.3,519.4 1068.3,461.6 1069.3,577.2 1070.3,577.2 1071.2,577.2 1072.2,577.2 1073.2,519.4 1074.2,461.6 1075.2,519.4 1076.2,519.4 1077.2,403.8 1078.1,519.4 1079.1,577.2 1080.1,577.2 1081.1,461.6 1082.1,403.8 1083.1,577.2 1084.0,577.2 1085.0,635.0 1086.0,577.2 1087.0,635.0 1088.0,577.2 1089.0,461.6 1090.0,577.2 1090.9,403.8 1091.9,577.2 1092.9,519.4 1093.9,461.6 1094.9,519.4 1095.9,519.4 1096.8,519.4 1097.8,519.4 1098.8,519.4 1099.8,403.8 1100.8,519.4 1101.8,519.4 1102.8,519.4 1103.7,519.4 1104.7,577.2 1105.7,345.9 1106.7,577.2 1107.7,635.0 1108.7,461.6 1109.7,519.4 1110.6,403.8 1111.6,519.4 1112.6,577.2 1113.6,577.2 1114.6,519.4 1115.6,403.8 1116.5,635.0 1117.5,577.2 1118.5,635.0 1119.5,519.4 1120.5,577.2 1121.5,519.4 1122.5,461.6 1123.4,519.4 1124.4,461.6 1125.4,519.4 1126.4,519.4 1127.4,577.2 1128.4,519.4 1129.4,519.4 1130.3,519.4 1131.3,519.4 1132.3,519.4 1133.3,461.6 1134.3,461.6 1135.3,635.0 1136.2,577.2 1137.2,461.6 1138.2,461.6 1139.2,577.2 1140.2,519.4 1141.2,577.2 1142.2,461.6 1143.1,403.8 1144.1,519.4 1145.1,403.8 1146.1,519.4 1147.1,577.2 1148.1,461.6 1149.1,577.2 1150.0,635.0 1151.0,461.6 1152.0,577.2 1153.0,519.4 1154.0,403.8 1155.0,577.2 1156.0,461.6 1156.9,461.6 1157.9,519.4 1158.9,519.4 1159.9,519.4 1160.9,519.4 1161.9,461.6 1162.8,461.6 1163.8,577.2 1164.8,577.2 1165.8,519.4 1166.8,577.2 1167.8,461.6 1168.8,577.2 1169.7,577.2 1170.7,461.6 1171.7,519.4 1172.7,461.6 1173.7,519.4 1174.7,577.2 1175.7,577.2 1176.6,519.4 1177.6,519.4 1178.6,519.4 1179.6,519.4 1180.6,519.4 1181.6,577.2 1182.5,635.0 1183.5,635.0 1184.5,577.2 1185.5,635.0 1186.5,403.8 1187.5,519.4 1188.5,461.6 1189.4,577.2 1190.4,635.0 1191.4,461.6 1192.4,635.0 1193.4,635.0 1194.4,519.4 1195.3,461.6 1196.3,461.6 1197.3,461.6 1198.3,461.6 1199.3,345.9 1200.3,519.4 1201.3,519.4 1202.2,577.2 1203.2,577.2 1204.2,577.2 1205.2,577.2 1206.2,403.8 1207.2,577.2 1208.2,577.2 1209.1,519.4 1210.1,519.4 1211.1,577.2 1212.1,577.2 1213.1,577.2 1214.1,635.0 1215.0,519.4 1216.0,519.4 1217.0,461.6 1218.0,577.2 1219.0,345.9 1220.0,577.2 1221.0,577.2 1221.9,577.2 1222.9,519.4 1223.9,635.0 1224.9,403.8 1225.9,577.2 1226.9,635.0 1227.9,519.4 1228.8,635.0 1229.8,288.1 1230.8,635.0 1231.8,577.2 1232.8,461.6 1233.8,577.2 1234.8,461.6 1235.7,577.2 1236.7,461.6 1237.7,577.2 1238.7,519.4 1239.7,635.0 1240.7,577.2 1241.6,403.8 1242.6,461.6 1243.6,519.4 1244.6,461.6 1245.6,635.0 1246.6,461.6 1247.6,519.4 1248.5,461.6 1249.5,577.2 1250.5,635.0 1251.5,577.2 1252.5,461.6 1253.5,519.4 1254.5,519.4 1255.4,345.9 1256.4,577.2 1257.4,519.4 1258.4,635.0 1259.4,461.6 1260.4,519.4 1261.3,519.4 1262.3,635.0 1263.3,635.0 1264.3,577.2 1265.3,577.2 1266.3,635.0 1267.3,577.2 1268.2,403.8 1269.2,635.0 1270.2,345.9 1271.2,635.0 1272.2,577.2 1273.2,403.8 1274.2,635.0 1275.1,635.0 1276.1,519.4 1277.1,635.0 1278.1,519.4 1279.1,577.2 1280.1,519.4 1281.0,635.0 1282.0,577.2 1283.0,577.2 1284.0,635.0 1285.0,577.2 1286.0,519.4 1287.0,403.8 1287.9,635.0 1288.9,577.2 1289.9,577.2 1290.9,635.0 1291.9,519.4 1292.9,461.6 1293.8,519.4 1294.8,345.9 1295.8,635.0 1296.8,461.6 1297.8,635.0 1298.8,635.0 1299.8,519.4 1300.7,635.0 1301.7,577.2 1302.7,635.0 1303.7,519.4 1304.7,577.2 1305.7,577.2 1306.7,635.0 1307.6,577.2 1308.6,577.2 1309.6,577.2 1310.6,635.0 1311.6,461.6 1312.6,635.0 1313.5,577.2 1314.5,577.2 1315.5,461.6 1316.5,519.4 1317.5,635.0 1318.5,577.2 1319.5,635.0 1320.4,577.2 1321.4,519.4 1322.4,577.2 1323.4,461.6 1324.4,635.0 1325.4,635.0 1326.4,577.2 1327.3,577.2 1328.3,577.2 1329.3,577.2 1330.3,519.4 1331.3,577.2 1332.3,577.2 1333.2,635.0 1334.2,519.4 1335.2,461.6 1336.2,519.4 1337.2,461.6 1338.2,577.2 1339.2,403.8 1340.1,461.6 1341.1,577.2 1342.1,577.2 1343.1,635.0 1344.1,519.4 1345.1,461.6 1346.1,461.6 1347.0,577.2 1348.0,577.2 1349.0,519.4 1350.0,577.2 1351.0,519.4 1352.0,635.0 1353.0,577.2 1353.9,635.0 1354.9,577.2 1355.9,519.4 1356.9,403.8 1357.9,519.4 1358.9,577.2 1359.8,461.6 1360.8,577.2 1361.8,635.0 1362.8,635.0 1363.8,577.2 1364.8,461.6 1365.8,577.2 1366.7,461.6 1367.7,577.2 1368.7,577.2 1369.7,635.0 1370.7,461.6 1371.7,461.6 1372.7,519.4 1373.6,519.4 1374.6,288.1 1375.6,577.2 1376.6,461.6 1377.6,635.0 1378.6,577.2 1379.5,635.0 1380.5,461.6 1381.5,403.8 1382.5,519.4 1383.5,461.6 1384.5,519.4 1385.5,577.2 1386.4,635.0 1387.4,577.2 1388.4,635.0 1389.4,577.2 1390.4,635.0 1391.4,635.0 1392.3,635.0 1393.3,635.0 1394.3,635.0 1395.3,577.2 1396.3,577.2 1397.3,461.6 1398.3,577.2 1399.2,519.4 1400.2,461.6 1401.2,519.4 1402.2,577.2 1403.2,519.4 1404.2,577.2 1405.2,577.2 1406.1,635.0 1407.1,577.2 1408.1,461.6 1409.1,577.2 1410.1,635.0 1411.1,577.2 1412.0,577.2 1413.0,635.0 1414.0,577.2 1415.0,577.2 1416.0,519.4 1417.0,577.2 1418.0,577.2 1418.9,635.0 1419.9,519.4 1420.9,635.0 1421.9,577.2 1422.9,635.0 1423.9,519.4 1424.9,635.0 1425.8,461.6 1426.8,519.4 1427.8,519.4 1428.8,635.0 1429.8,635.0 1430.8,635.0 1431.8,519.4 1432.7,635.0 1433.7,577.2 1434.7,519.4 1435.7,635.0 1436.7,577.2 1437.7,635.0 1438.6,635.0 1439.6,577.2 1440.6,577.2 1441.6,519.4 1442.6,577.2 1443.6,577.2 1444.6,519.4 1445.5,461.6 1446.5,577.2 1447.5,519.4 1448.5,461.6 1449.5,635.0 1450.5,519.4 1451.5,635.0 1452.4,635.0 1453.4,635.0 1454.4,577.2 1455.4,519.4 1456.4,403.8 1457.4,635.0 1458.3,519.4 1459.3,635.0 1460.3,519.4 1461.3,577.2 1462.3,635.0 1463.3,519.4 1464.3,577.2 1465.2,577.2 1466.2,635.0 1467.2,577.2 1468.2,635.0 1469.2,519.4 1470.2,635.0 1471.2,635.0 1472.1,635.0 1473.1,519.4 1474.1,577.2 1475.1,577.2 1476.1,519.4 1477.1,577.2 1478.0,577.2 1479.0,519.4 1480.0,403.8 1481.0,577.2 1482.0,577.2 1483.0,635.0 1484.0,577.2 1484.9,461.6 1485.9,577.2 1486.9,577.2 1487.9,635.0 1488.9,635.0 1489.9,519.4 1490.8,577.2 1491.8,635.0 1492.8,577.2 1493.8,519.4 1494.8,635.0 1495.8,635.0 1496.8,635.0 1497.7,577.2 1498.7,577.2 1499.7,519.4 1500.7,519.4 1501.7,577.2 1502.7,577.2 1503.7,635.0 1504.6,635.0 1505.6,635.0 1506.6,635.0 1507.6,519.4 1508.6,577.2 1509.6,519.4 1510.5,577.2 1511.5,461.6 1512.5,635.0 1513.5,635.0 1514.5,519.4 1515.5,577.2 1516.5,635.0 1517.4,635.0 1518.4,635.0 1519.4,577.2 1520.4,519.4 1521.4,577.2 1522.4,461.6 1523.4,577.2 1524.3,519.4 1525.3,461.6 1526.3,635.0 1527.3,519.4 1528.3,519.4 1529.3,577.2 1530.2,635.0 1531.2,635.0 1532.2,577.2 1533.2,577.2 1534.2,577.2 1535.2,519.4 1536.2,461.6 1537.1,519.4 1538.1,635.0 1539.1,577.2 1540.1,635.0 1541.1,577.2 1542.1,635.0 1543.1,577.2 1544.0,519.4 1545.0,635.0 1546.0,461.6 1547.0,577.2 1548.0,403.8 1549.0,519.4 1550.0,577.2 1550.9,577.2 1551.9,635.0 1552.9,519.4 1553.9,635.0 1554.9,577.2 1555.9,577.2 1556.8,519.4 1557.8,635.0 1558.8,577.2 1559.8,635.0 1560.8,577.2 1561.8,635.0 1562.8,577.2 1563.7,461.6 1564.7,635.0 1565.7,519.4 1566.7,519.4 1567.7,635.0 1568.7,519.4 1569.7,519.4 1570.6,577.2 1571.6,577.2 1572.6,519.4 1573.6,461.6 1574.6,577.2 1575.6,635.0 1576.5,577.2 1577.5,577.2 1578.5,635.0 1579.5,577.2 1580.5,577.2 1581.5,519.4 1582.5,577.2 1583.4,577.2 1584.4,635.0 1585.4,519.4 1586.4,577.2 1587.4,577.2 1588.4,635.0 1589.3,519.4 1590.3,635.0 1591.3,635.0 1592.3,577.2 1593.3,577.2 1594.3,635.0 1595.3,635.0 1596.2,577.2 1597.2,519.4 1598.2,461.6 1599.2,577.2 1600.2,635.0 1601.2,577.2 1602.2,577.2 1603.1,577.2 1604.1,461.6 1605.1,635.0 1606.1,577.2 1607.1,635.0 1608.1,577.2 1609.0,577.2 1610.0,519.4 1611.0,577.2 1612.0,635.0 1613.0,519.4 1614.0,635.0 1615.0,635.0 1615.9,635.0 1616.9,577.2 1617.9,635.0 1618.9,519.4 1619.9,577.2 1620.9,635.0 1621.9,577.2 1622.8,577.2 1623.8,577.2 1624.8,635.0 1625.8,577.2 1626.8,635.0 1627.8,635.0 1628.8,577.2 1629.7,635.0 1630.7,635.0 1631.7,519.4 1632.7,635.0 1633.7,635.0 1634.7,577.2 1635.6,519.4 1636.6,635.0 1637.6,403.8 1638.6,635.0 1639.6,577.2 1640.6,635.0 1641.6,635.0 1642.5,635.0 1643.5,635.0 1644.5,577.2 1645.5,577.2 1646.5,635.0 1647.5,519.4 1648.5,577.2 1649.4,577.2 1650.4,635.0 1651.4,577.2 1652.4,635.0 1653.4,635.0 1654.4,577.2 1655.3,635.0 1656.3,635.0 1657.3,635.0 1658.3,577.2 1659.3,635.0 1660.3,635.0 1661.3,577.2 1662.2,635.0 1663.2,635.0 1664.2,635.0 1665.2,577.2 1666.2,577.2 1667.2,635.0 1668.2,577.2 1669.1,519.4 1670.1,635.0 1671.1,577.2 1672.1,635.0 1673.1,577.2 1674.1,519.4 1675.0,519.4 1676.0,635.0 1677.0,635.0 1678.0,577.2 1679.0,519.4 1680.0,635.0 1681.0,577.2 1681.9,635.0 1682.9,577.2 1683.9,519.4 1684.9,519.4 1685.9,577.2 1686.9,635.0 1687.8,577.2 1688.8,635.0 1689.8,577.2 1690.8,635.0 1691.8,519.4 1692.8,635.0 1693.8,577.2 1694.7,577.2 1695.7,635.0 1696.7,519.4 1697.7,577.2 1698.7,635.0 1699.7,577.2 1700.7,461.6 1701.6,635.0 1702.6,635.0 1703.6,635.0 1704.6,577.2 1705.6,577.2 1706.6,577.2 1707.5,577.2 1708.5,519.4 1709.5,635.0 1710.5,635.0 1711.5,635.0 1712.5,635.0 1713.5,577.2 1714.4,519.4 1715.4,577.2 1716.4,577.2 1717.4,519.4 1718.4,635.0 1719.4,519.4 1720.4,577.2 1721.3,635.0 1722.3,519.4 1723.3,577.2 1724.3,635.0 1725.3,577.2 1726.3,577.2 1727.2,635.0 1728.2,577.2 1729.2,577.2 1730.2,635.0 1731.2,635.0 1732.2,519.4 1733.2,635.0 1734.1,635.0 1735.1,519.4 1736.1,461.6 1737.1,635.0 1738.1,519.4 1739.1,635.0 1740.1,577.2 1741.0,577.2 1742.0,635.0 1743.0,635.0 1744.0,635.0 1745.0,577.2 1746.0,577.2 1747.0,635.0 1747.9,635.0 1748.9,635.0 1749.9,635.0 1750.9,577.2 1751.9,635.0 1752.9,577.2 1753.8,577.2 1754.8,519.4 1755.8,577.2 1756.8,577.2 1757.8,577.2 1758.8,577.2 1759.8,519.4 1760.7,635.0 1761.7,577.2 1762.7,635.0 1763.7,519.4 1764.7,577.2 1765.7,635.0 1766.7,577.2 1767.6,461.6 1768.6,577.2 1769.6,577.2 1770.6,635.0 1771.6,519.4 1772.6,577.2 1773.5,577.2 1774.5,635.0 1775.5,519.4 1776.5,635.0 1777.5,577.2 1778.5,577.2 1779.5,577.2 1780.4,461.6 1781.4,577.2 1782.4,577.2 1783.4,577.2 1784.4,635.0 1785.4,577.2 1786.3,635.0 1787.3,519.4 1788.3,577.2 1789.3,577.2 1790.3,577.2 1791.3,577.2 1792.3,577.2 1793.2,635.0 1794.2,635.0 1795.2,577.2 1796.2,577.2 1797.2,577.2 1798.2,635.0 1799.2,577.2 1800.1,635.0 1801.1,577.2 1802.1,577.2 1803.1,635.0 1804.1,577.2 1805.1,635.0 1806.0,635.0 1807.0,461.6 1808.0,635.0 1809.0,577.2 1810.0,635.0 1811.0,577.2 1812.0,635.0 1812.9,635.0 1813.9,577.2 1814.9,635.0 1815.9,577.2 1816.9,635.0 1817.9,635.0 1818.9,577.2 1819.8,635.0 1820.8,577.2 1821.8,461.6 1822.8,577.2 1823.8,577.2 1824.8,635.0 1825.8,577.2 1826.7,577.2 1827.7,577.2 1828.7,577.2 1829.7,635.0 1830.7,635.0 1831.7,519.4 1832.6,577.2 1833.6,635.0 1834.6,577.2 1835.6,577.2 1836.6,577.2 1837.6,635.0 1838.6,635.0 1839.5,635.0 1840.5,635.0 1841.5,635.0 1842.5,635.0 1843.5,577.2 1844.5,577.2 1845.5,577.2 1846.4,577.2 1847.4,577.2 1848.4,577.2 1849.4,577.2 1850.4,635.0 1851.4,635.0 1852.3,577.2 1853.3,577.2 1854.3,635.0 1855.3,577.2 1856.3,635.0 1857.3,635.0 1858.3,635.0 1859.2,519.4 1860.2,577.2 1861.2,635.0 1862.2,635.0 1863.2,519.4 1864.2,577.2 1865.2,635.0 1866.1,577.2 1867.1,577.2 1868.1,635.0 1869.1,635.0 1870.1,635.0 1871.1,635.0 1872.0,635.0 1873.0,577.2 1874.0,577.2 1875.0,577.2 1876.0,635.0 1877.0,577.2 1878.0,635.0 1878.9,635.0 1879.9,577.2 1880.9,519.4 1881.9,635.0 1882.9,577.2 1883.9,577.2 1884.8,635.0 1885.8,635.0 1886.8,635.0 1887.8,635.0 1888.8,577.2 1889.8,519.4 1890.8,577.2 1891.7,635.0 1892.7,577.2 1893.7,577.2 1894.7,577.2 1895.7,577.2 1896.7,635.0 1897.7,577.2 1898.6,519.4 1899.6,635.0 1900.6,577.2 1901.6,577.2 1902.6,577.2 1903.6,577.2 1904.5,577.2 1905.5,635.0 1906.5,577.2 1907.5,635.0 1908.5,519.4 1909.5,635.0 1910.5,577.2 1911.4,635.0 1912.4,577.2 1913.4,577.2 1914.4,577.2 1915.4,635.0 1916.4,635.0 1917.4,577.2 1918.3,577.2 1919.3,519.4 1920.3,577.2 1921.3,577.2 1922.3,635.0 1923.3,635.0 1924.2,635.0 1925.2,635.0 1926.2,635.0 1927.2,635.0 1928.2,635.0 1929.2,635.0 1930.2,635.0 1931.1,635.0 1932.1,635.0 1933.1,635.0 1934.1,577.2 1935.1,519.4 1936.1,635.0 1937.1,577.2 1938.0,577.2 1939.0,577.2 1940.0,635.0 1941.0,635.0 1942.0,635.0 1943.0,635.0 1944.0,635.0 1944.9,635.0 1945.9,635.0 1946.9,635.0 1947.9,635.0 1948.9,635.0 1949.9,577.2 1950.8,577.2 1951.8,577.2 1952.8,635.0 1953.8,577.2 1954.8,577.2 1955.8,635.0 1956.8,577.2 1957.7,635.0 1958.7,577.2 1959.7,635.0 1960.7,635.0 1961.7,635.0 1962.7,635.0 1963.7,635.0 1964.6,635.0 1965.6,635.0 1966.6,635.0 1967.6,635.0 1968.6,635.0 1969.6,635.0 1970.5,635.0 1971.5,635.0 1972.5,635.0 1973.5,635.0 1974.5,635.0 1975.5,635.0 1976.5,635.0 1977.4,635.0 1978.4,635.0 1979.4,635.0 1980.4,635.0 1981.4,635.0 1982.4,635.0 1983.3,635.0 1984.3,577.2 1985.3,635.0 1986.3,577.2 1987.3,635.0 1988.3,577.2 1989.3,577.2 1990.2,577.2 1991.2,577.2 1992.2,635.0 1993.2,577.2 1994.2,635.0 1995.2,635.0 1996.2,635.0 1997.1,577.2 1998.1,577.2 1999.1,635.0 2000.1,635.0 2001.1,577.2 2002.1,635.0 2003.0,577.2 2004.0,519.4 2005.0,577.2 2006.0,519.4 2007.0,635.0 2008.0,635.0 2009.0,635.0 2009.9,635.0 2010.9,635.0 2011.9,635.0 2012.9,635.0 2013.9,635.0 2014.9,635.0 2015.9,635.0 2016.8,577.2 2017.8,635.0 2018.8,635.0 2019.8,635.0 2020.8,635.0 2021.8,635.0 2022.8,577.2 2023.7,577.2 2024.7,635.0 2025.7,635.0 2026.7,635.0 2027.7,635.0 2028.7,635.0 2029.6,577.2 2030.6,635.0 2031.6,577.2 2032.6,577.2 2033.6,635.0 2034.6,635.0 2035.6,635.0 2036.5,577.2 2037.5,635.0 2038.5,577.2 2039.5,635.0 2040.5,635.0 2041.5,635.0 2042.5,635.0 2043.4,635.0 2044.4,635.0 2045.4,635.0 2046.4,635.0 2047.4,635.0 2048.4,635.0 2049.3,635.0 2050.3,635.0 2051.3,635.0 2052.3,635.0 2053.3,635.0 2054.3,635.0 2055.3,635.0 2056.2,635.0 2057.2,577.2 2058.2,577.2 2059.2,635.0 2060.2,635.0 2061.2,635.0 2062.2,635.0 2063.1,635.0 2064.1,635.0 2065.1,635.0 2066.1,635.0 2067.1,635.0 2068.1,577.2 2069.0,577.2 2070.0,635.0 2071.0,577.2 2072.0,577.2"/>
</g>
<g fill="#000" font-family='"Liberation Serif", "DejaVu Serif", serif' stroke="#000" stroke-width="0.15">
<text><tspan x="116.00" y="72.30" font-size="73.5" textLength="145.04" lengthAdjust="spacingAndGlyphs">1000</tspan></text>
<text><tspan x="153.20" y="332.20" font-size="73.5" textLength="108.05" lengthAdjust="spacingAndGlyphs">800</tspan></text>
<text><tspan x="153.20" y="592.10" font-size="73.5" textLength="108.05" lengthAdjust="spacingAndGlyphs">600</tspan></text>
<text><tspan x="153.10" y="852.00" font-size="73.5" textLength="108.17" lengthAdjust="spacingAndGlyphs">400</tspan></text>
<text><tspan x="151.20" y="1111.90" font-size="73.5" textLength="110.16" lengthAdjust="spacingAndGlyphs">200</tspan></text>
<text><tspan x="223.80" y="1371.80" font-size="73.5" textLength="37.48" lengthAdjust="spacingAndGlyphs">0</tspan></text>
<text><tspan x="280.90" y="1460.30" font-size="73.5" textLength="37.38" lengthAdjust="spacingAndGlyphs">0</tspan></text>
<text><tspan x="751.80" y="1460.30" font-size="73.5" textLength="41.57" lengthAdjust="spacingAndGlyphs">2</tspan></text>
<text><tspan x="1226.20" y="1460.30" font-size="73.5" textLength="35.51" lengthAdjust="spacingAndGlyphs">4</tspan></text>
<text><tspan x="1698.70" y="1460.30" font-size="73.5" textLength="37.44" lengthAdjust="spacingAndGlyphs">6</tspan></text>
<text><tspan x="2170.40" y="1460.30" font-size="73.5" textLength="37.03" lengthAdjust="spacingAndGlyphs">8</tspan></text>
<text><tspan x="1037.00" y="1549.80" font-size="73.5" textLength="223.62" lengthAdjust="spacingAndGlyphs">Energy</tspan> <tspan x="1282.10" y="1549.80" font-size="73.5" textLength="171.18" lengthAdjust="spacingAndGlyphs">(keV)</tspan></text>
<text transform="rotate(-90)"><tspan x="-963.40" y="72.00" font-size="73.5" textLength="275.96" lengthAdjust="spacingAndGlyphs">Intensity</tspan> <tspan x="-667.50" y="72.00" font-size="73.5" textLength="251.62" lengthAdjust="spacingAndGlyphs">(counts)</tspan></text>
<text><tspan x="835.00" y="186.50" font-size="71" textLength="35.95" lengthAdjust="spacingAndGlyphs">8</tspan></text>
<text><tspan x="835.50" y="417.05" font-size="71" textLength="34.28" lengthAdjust="spacingAndGlyphs">4</tspan></text>
<text><tspan x="835.00" y="649.30" font-size="71" textLength="36.22" lengthAdjust="spacingAndGlyphs">0</tspan></text>
<text><tspan x="854.00" y="733.00" font-size="71" textLength="73.38" lengthAdjust="spacingAndGlyphs">12</tspan></text>
<text><tspan x="1247.50" y="733.00" font-size="71" textLength="71.45" lengthAdjust="spacingAndGlyphs">14</tspan></text>
<text><tspan x="1643.00" y="733.00" font-size="71" textLength="70.50" lengthAdjust="spacingAndGlyphs">16</tspan></text>
<text><tspan x="2036.50" y="733.00" font-size="71" textLength="71.30" lengthAdjust="spacingAndGlyphs">18</tspan></text>
<text><tspan x="1299.80" y="811.00" font-size="71" textLength="218.37" lengthAdjust="spacingAndGlyphs">Energy</tspan> <tspan x="1536.60" y="811.00" font-size="71" textLength="166.45" lengthAdjust="spacingAndGlyphs">(keV)</tspan></text>
<text transform="rotate(-90)"><tspan x="-686.60" y="768.00" font-size="71" textLength="266.34" lengthAdjust="spacingAndGlyphs">Intensity</tspan> <tspan x="-400.30" y="768.00" font-size="71" textLength="244.06" lengthAdjust="spacingAndGlyphs">(counts)</tspan></text>
<text transform="rotate(-90)"><tspan x="-973.10" y="439.20" font-size="65.5" textLength="155.41" lengthAdjust="spacingAndGlyphs">OKα,</tspan> <tspan x="-803.70" y="439.20" font-size="65.5" textLength="167.45" lengthAdjust="spacingAndGlyphs">PdMγ</tspan></text>
<text transform="rotate(-90)"><tspan x="-1279.60" y="533.30" font-size="65.5" textLength="166.15" lengthAdjust="spacingAndGlyphs">CeMβ</tspan></text>
<text transform="rotate(-90)"><tspan x="-1299.20" y="589.00" font-size="65.5" textLength="163.61" lengthAdjust="spacingAndGlyphs">CeMγ</tspan></text>
<text transform="rotate(-90)"><tspan x="-1120.60" y="595.80" font-size="65.5" textLength="169.12" lengthAdjust="spacingAndGlyphs">NaKα</tspan></text>
<text transform="rotate(-90)"><tspan x="-1133.60" y="752.30" font-size="65.5" textLength="143.47" lengthAdjust="spacingAndGlyphs">PKα,</tspan> <tspan x="-978.00" y="752.30" font-size="65.5" textLength="187.98" lengthAdjust="spacingAndGlyphs">AuMα</tspan></text>
<text transform="rotate(-90)"><tspan x="-1132.40" y="848.40" font-size="65.5" textLength="323.08" lengthAdjust="spacingAndGlyphs">(ZrLα,ZrLβ</tspan><tspan x="-809.50" y="880.50" font-size="37.5" textLength="16.80" lengthAdjust="spacingAndGlyphs">1</tspan><tspan x="-792.50" y="848.40" font-size="65.5" textLength="23.10" lengthAdjust="spacingAndGlyphs">)</tspan></text>
<text transform="rotate(-90)"><tspan x="-1018.60" y="1464.50" font-size="65.5" textLength="154.95" lengthAdjust="spacingAndGlyphs">CeLα</tspan></text>
<text transform="rotate(-90)"><tspan x="-1162.30" y="1559.50" font-size="65.5" textLength="151.01" lengthAdjust="spacingAndGlyphs">CeLβ</tspan><tspan x="-1011.80" y="1587.90" font-size="37.5" textLength="71.84" lengthAdjust="spacingAndGlyphs">1,4,3</tspan></text>
<text transform="rotate(-90)"><tspan x="-1251.20" y="1650.80" font-size="65.5" textLength="149.86" lengthAdjust="spacingAndGlyphs">CeLβ</tspan><tspan x="-1104.00" y="1678.90" font-size="37.5" textLength="21.00" lengthAdjust="spacingAndGlyphs">2</tspan></text>
<text transform="rotate(-90)"><tspan x="-1301.00" y="1760.60" font-size="65.5" textLength="145.90" lengthAdjust="spacingAndGlyphs">CeLγ</tspan><tspan x="-1160.80" y="1788.90" font-size="37.5" textLength="16.94" lengthAdjust="spacingAndGlyphs">1</tspan></text>
<text transform="rotate(-90)"><tspan x="-393.30" y="1620.90" font-size="60" textLength="180.24" lengthAdjust="spacingAndGlyphs">(ZrKα)</tspan></text>
</g>
</svg>
</body>
</html>
